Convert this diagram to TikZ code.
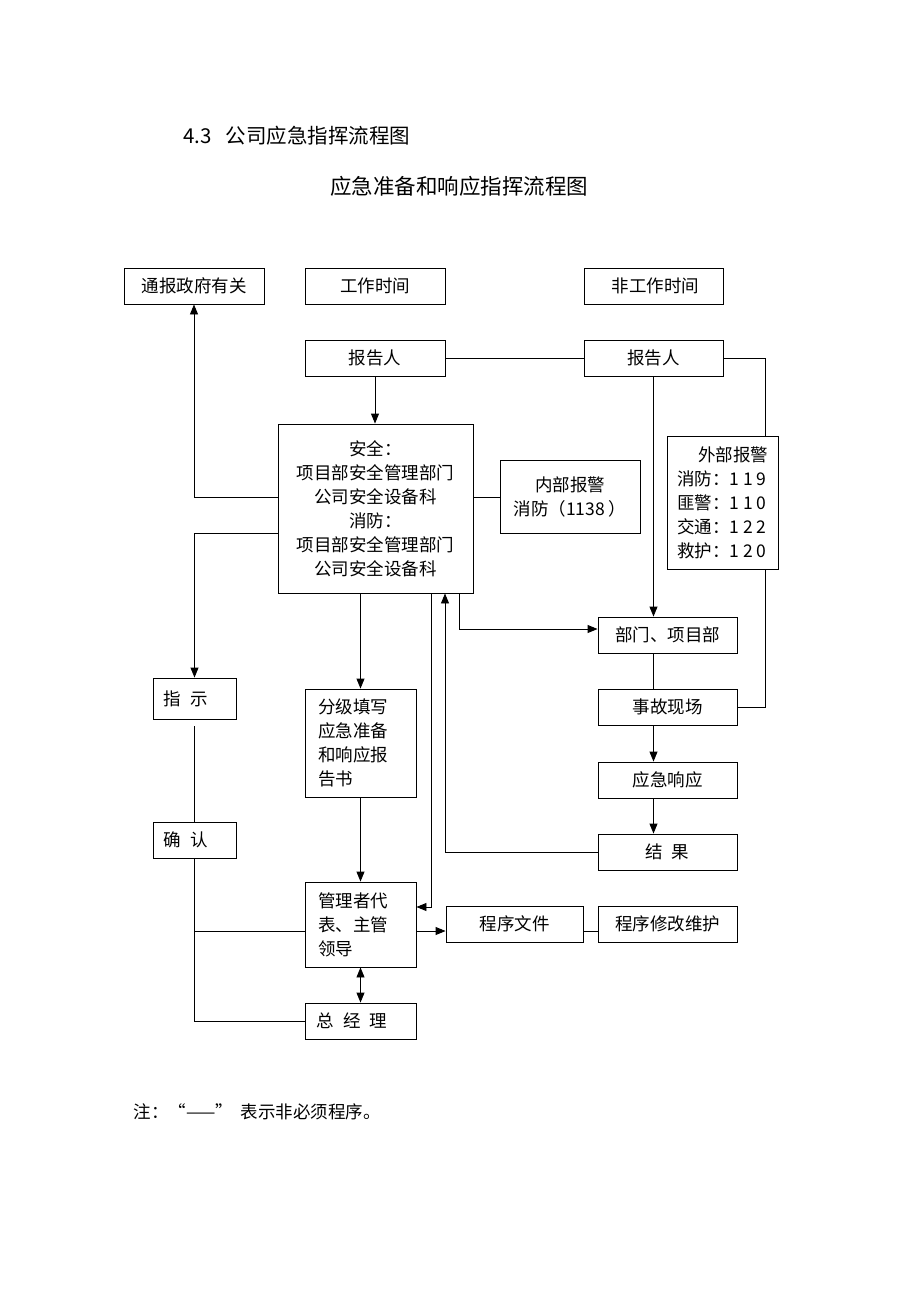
\documentclass[tikz,border=0pt]{standalone}
\usepackage{fontspec}
\setmainfont{Noto Sans CJK SC}
\usetikzlibrary{arrows.meta}

\begin{document}
\begin{tikzpicture}[x=1pt,y=-1pt]
	\tikzset{kasten/.style={draw, line width=0.9pt, minimum height=36pt, inner sep=2pt, align=center, font=\fontsize{17.5}{24}\selectfont}}
	\tikzset{links/.style={kasten, align=left, text width=85pt, inner xsep=13pt}}
	\tikzset{pfeil/.style={line width=0.9pt, -{Triangle[length=10pt,width=8pt]}}}
	\tikzset{linie/.style={line width=0.9pt}}
	\path[fill=white] (0,0) rectangle (920,1302);

	% Titles
	\node[anchor=west, font=\fontsize{20.5}{24}\selectfont] at (180,136) (t1) {4.3\ \ \ 公司应急指挥流程图};
	\node[font=\fontsize{21.5}{24}\selectfont] at (459,186) (t2) {应急准备和响应指挥流程图};

	% Boxes
	\node[kasten, minimum width=140pt] at (194,286) (gov) {通报政府有关};
	\node[kasten, minimum width=140pt] at (375,286) (work) {工作时间};
	\node[kasten, minimum width=139pt] at (653.5,286) (off) {\ 非工作时间};
	\node[kasten, minimum width=140pt] at (375,358) (r1) {报告人};
	\node[kasten, minimum width=139pt] at (653.5,358) (r2) {报告人};
	\node[kasten, minimum width=195pt, minimum height=169pt] at (375.5,508.5) (main) {安全：\\项目部安全管理部门\\公司安全设备科\\消防：\\项目部安全管理部门\\公司安全设备科};
	\node[kasten, minimum width=140pt, minimum height=73pt] at (570,497) (intern) {内部报警\\消防（1138\ ）};
	\node[kasten, align=left, minimum width=111pt, minimum height=133pt] at (722.5,502.5) (extern) {\spaceskip=0.6em\relax\hspace*{1.2em}外部报警\\消防：1 1 9\\匪警：1 1 0\\交通：1 2 2\\救护：1 2 0};
	\node[kasten, minimum width=139pt] at (667.5,635) (dept) {部门、项目部};
	\node[kasten, minimum width=83pt, minimum height=41pt] at (194.5,698.5) (hint) {指\enspace 示\hspace*{1em}};
	\node[links, minimum height=108pt] at (360.5,743) (form) {分级填写\\应急准备\\和响应报\\告书};
	\node[kasten, minimum width=139pt] at (667.5,707) (site) {事故现场};
	\node[kasten, minimum width=139pt] at (667.5,780) (resp) {应急响应};
	\node[kasten, minimum width=139pt] at (667.5,852) (result) {结\enspace 果};
	\node[kasten, minimum width=83pt] at (194.5,840) (conf) {确\enspace 认\hspace*{1em}};
	\node[links, minimum height=85pt] at (360.5,924.5) (mgmt) {管理者代\\表、主管\\领导};
	\node[kasten, minimum width=137pt] at (514.5,924) (doc) {程序文件};
	\node[kasten, minimum width=139pt] at (667.5,924) (maint) {程序修改维护};
	\node[kasten, minimum width=111pt] at (360.5,1021) (gm) {总\enspace 经\enspace 理\hspace*{1em}};

	% Note
	\node[anchor=west, font=\fontsize{17.5}{24}\selectfont] at (130,1112) (note) {注：“——”\ \ 表示非必须程序。};

	% Top part
	\draw[pfeil] (r1.south) -- (r1.south |- main.north);
	\draw[linie] (r1.east) -- (r2.west);
	\draw[pfeil] (r2.south) -- (r2.south |- dept.north);
	\draw[linie] (r2.east) -| ([xshift=42.5pt]extern.north);
	\draw[linie] ([xshift=42.5pt]extern.south) |- (site.east);
	\draw[pfeil] (main.west |- intern.west) -| (gov.south);
	\draw[pfeil] ([yshift=-24.5pt]main.west) -| (hint.north);
	\draw[linie] (intern.west -| main.east) -- (intern.west);

	% Below the main box
	\draw[pfeil] (form.north |- main.south) -- (form.north);
	\draw[pfeil] ([xshift=83.5pt]main.south) |- ([yshift=6pt]dept.west);
	\draw[pfeil] (result.west) -| ([xshift=69.5pt]main.south);
	\draw[pfeil] ([xshift=55.5pt]main.south) |- ([yshift=17.5pt]mgmt.east);

	% Right column
	\draw[linie] (dept.south -| r2.south) -- (site.north -| r2.south);
	\draw[pfeil] (site.south -| r2.south) -- (resp.north -| r2.south);
	\draw[pfeil] (resp.south -| r2.south) -- (result.north -| r2.south);

	% Bottom part
	\draw[pfeil] (form.south) -- (mgmt.north);
	\draw[pfeil] ([yshift=-6.5pt]mgmt.east) -- ([yshift=-6.5pt]mgmt.east -| doc.west);
	\draw[linie] ([yshift=-6.5pt]mgmt.east -| doc.east) -- ([yshift=-6.5pt]mgmt.east -| maint.west);
	\draw[line width=0.9pt, {Triangle[length=10pt,width=8pt]}-{Triangle[length=10pt,width=8pt]}] (mgmt.south) -- (gm.north);
	\draw[linie] ([yshift=-7pt]hint.south) -- (conf.north);
	\draw[linie] (conf.south) |- (gm.west);
	\draw[linie] ([yshift=-6.5pt]mgmt.west) -| (conf.south);
\end{tikzpicture}
\end{document}
